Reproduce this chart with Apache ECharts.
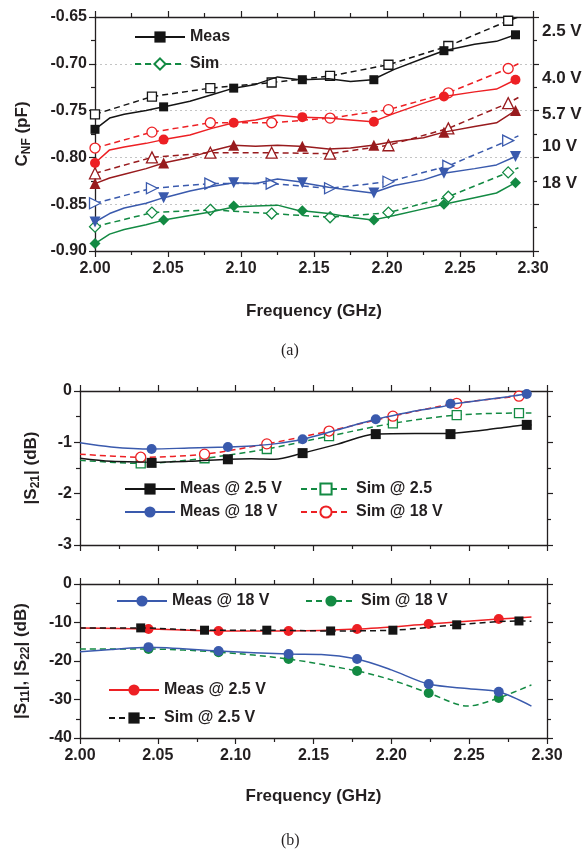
<!DOCTYPE html>
<html>
<head>
<meta charset="utf-8">
<title>CNF and S-parameters vs frequency</title>
<script src="https://cdn.jsdelivr.net/npm/echarts@6/dist/echarts.min.js"></script>
<style>
    html, body { margin:0; padding:0; background:#fff; }
    #chart { width:585px; height:855px; }
</style>
</head>
<body>
<div id="chart"></div>
<script>
// ---------- (a) C_NF (pF) vs frequency ----------
var fA   = [2.00, 2.01, 2.02, 2.035, 2.05, 2.065, 2.08, 2.095, 2.11, 2.125, 2.14, 2.16, 2.175, 2.19, 2.205, 2.225, 2.24, 2.26, 2.275, 2.29];
var l25A = [-0.770, -0.758, -0.754, -0.750, -0.745, -0.740, -0.733, -0.726, -0.722, -0.714, -0.717, -0.716, -0.719, -0.717, -0.706, -0.694, -0.686, -0.679, -0.676, -0.668];
var l40A = [-0.806, -0.792, -0.789, -0.785, -0.780, -0.776, -0.769, -0.763, -0.760, -0.755, -0.757, -0.758, -0.760, -0.762, -0.753, -0.742, -0.735, -0.730, -0.727, -0.717];
var l57A = [-0.828, -0.822, -0.818, -0.812, -0.805, -0.800, -0.793, -0.787, -0.788, -0.787, -0.788, -0.791, -0.790, -0.787, -0.783, -0.779, -0.773, -0.767, -0.763, -0.750];
var l10A = [-0.869, -0.860, -0.854, -0.849, -0.842, -0.836, -0.831, -0.827, -0.828, -0.823, -0.826, -0.832, -0.835, -0.838, -0.830, -0.824, -0.817, -0.812, -0.808, -0.799];
var l18A = [-0.892, -0.882, -0.877, -0.872, -0.866, -0.862, -0.858, -0.853, -0.852, -0.851, -0.857, -0.860, -0.864, -0.867, -0.862, -0.855, -0.850, -0.843, -0.838, -0.827];

// marker points on measured curves
var mA   = [2.000, 2.047, 2.095, 2.142, 2.191, 2.239, 2.288];
var m25A = [-0.770, -0.746, -0.726, -0.717, -0.717, -0.686, -0.669];
var m40A = [-0.806, -0.781, -0.763, -0.757, -0.762, -0.735, -0.717];
var m57A = [-0.828, -0.806, -0.787, -0.788, -0.787, -0.773, -0.750];
var m10A = [-0.869, -0.843, -0.827, -0.827, -0.838, -0.817, -0.799];
var m18A = [-0.892, -0.867, -0.852, -0.857, -0.867, -0.850, -0.827];

// simulated curves (markers) + end point
var sA   = [2.000, 2.039, 2.079, 2.121, 2.161, 2.201, 2.242, 2.283];
var s25A = [-0.754, -0.735, -0.726, -0.720, -0.713, -0.701, -0.681, -0.654];
var s40A = [-0.790, -0.773, -0.763, -0.763, -0.758, -0.749, -0.731, -0.705];
var s57A = [-0.817, -0.800, -0.795, -0.795, -0.796, -0.787, -0.769, -0.742];
var s10A = [-0.849, -0.833, -0.828, -0.828, -0.833, -0.826, -0.809, -0.782];
var s18A = [-0.874, -0.859, -0.856, -0.860, -0.864, -0.859, -0.842, -0.816];
var endA = [2.29];
var e25A = [-0.650], e40A = [-0.700], e57A = [-0.736], e10A = [-0.777], e18A = [-0.811];

var biasLabels = ['2.5 V', '4.0 V', '5.7 V', '10 V', '18 V'];

// ---------- (b) top: |S21| (dB) ----------
var fB1   = [2.00, 2.02, 2.046, 2.07, 2.095, 2.11, 2.125, 2.143, 2.165, 2.19, 2.215, 2.238, 2.26, 2.275, 2.29];
var lm25B = [-1.31, -1.37, -1.39, -1.37, -1.33, -1.32, -1.33, -1.21, -1.04, -0.84, -0.83, -0.83, -0.76, -0.70, -0.66];
var lm18B = [-1.01, -1.09, -1.13, -1.11, -1.09, -1.07, -1.03, -0.94, -0.76, -0.55, -0.39, -0.26, -0.17, -0.11, -0.04];
var mB    = [2.046, 2.095, 2.143, 2.190, 2.238, 2.287];
var mm25B = [-1.40, -1.33, -1.21, -0.84, -0.84, -0.66];
var mm18B = [-1.13, -1.09, -0.94, -0.55, -0.25, -0.06];
var sB    = [2.039, 2.080, 2.120, 2.160, 2.201, 2.242, 2.282];
var ms25B = [-1.41, -1.31, -1.13, -0.88, -0.63, -0.47, -0.43];
var ms18B = [-1.29, -1.23, -1.03, -0.78, -0.49, -0.24, -0.10];
var edgeB = [2.00, 2.29];
var es25B = [-1.35, -0.43];
var es18B = [-1.23, -0.08];

// ---------- (b) bottom: |S11|, |S22| (dB) ----------
var mB2    = [2.044, 2.089, 2.134, 2.178, 2.224, 2.269];
var mm25B2 = [-11.7, -12.2, -12.2, -11.7, -10.4, -9.1];
var mm18B2 = [-16.4, -17.4, -18.2, -19.5, -26.0, -28.0];
var ms18B2 = [-16.9, -17.7, -19.5, -22.6, -28.3, -29.6];
var sB2    = [2.039, 2.080, 2.120, 2.161, 2.201, 2.242, 2.282];
var ms25B2 = [-11.4, -12.0, -12.0, -12.2, -12.0, -10.6, -9.6];
var lm25F  = [2.00, 2.29],                           lm25V = [-11.4, -8.6];
var lm18F  = [2.00, 2.02, 2.155, 2.20, 2.25, 2.29],  lm18V = [-17.6, -17.0, -18.3, -22.3, -27.2, -31.7];
var ls18F  = [2.00, 2.20, 2.249, 2.29],              ls18V = [-16.9, -24.9, -31.7, -26.2];
var ls25F  = [2.00, 2.29],                           ls25V = [-11.4, -9.7];

var ink = '#231f20';
var FONT = '"Liberation Sans", Arial, sans-serif';
var BLACK = '#151515', RED = '#ed2024', DRED = '#981b1e', BLUE = '#3a5aad', GREEN = '#138a43';

var legendNames = {
    b1m25: 'Meas @ 2.5 V', b1m18: 'Meas @ 18 V', b1s25: 'Sim @ 2.5', b1s18: 'Sim @ 18 V',
    b2m18: 'Meas @ 18 V', b2s18: 'Sim @ 18 V', b2m25: 'Meas @ 2.5 V', b2s25: 'Sim @ 2.5 V'
};

// line points without symbol + marker points with symbol, sorted by frequency
function merge(lf, lv, mf, mv) {
    var out = [];
    lf.forEach(function (f, i) { out.push({ value: [f, lv[i]], symbol: 'none' }); });
    mf.forEach(function (f, i) { out.push({ value: [f, mv[i]] }); });
    out.sort(function (a, b) { return a.value[0] - b.value[0]; });
    return out;
}

function line(name, g, data, color, sym, open, dashed, size, rot, smooth) {
    return {
        name: name, type: 'line', xAxisIndex: g * 2, yAxisIndex: g * 2,
        data: data, symbol: sym, symbolSize: size, symbolRotate: rot || 0,
        showSymbol: true, showAllSymbol: true, smooth: smooth || false,
        z: dashed ? 3 : 4,
        lineStyle: { color: color, width: 1.5, type: dashed ? [6, 4] : 'solid' },
        itemStyle: { color: open ? '#fff' : color, borderColor: color, borderWidth: open ? 1.3 : 0 }
    };
}

function xAx(g, pos, labels) {
    return {
        type: 'value', gridIndex: g, position: pos, min: 2.0, max: 2.3, interval: 0.05,
        axisLine: { show: true, onZero: false, lineStyle: { color: ink, width: 1.3 } },
        axisTick: { show: true, length: 6, lineStyle: { color: ink, width: 1.2 } },
        minorTick: { show: true, splitNumber: 2, length: 4, lineStyle: { color: ink, width: 1.2 } },
        axisLabel: { show: labels, margin: 10, color: ink, fontSize: 16, fontWeight: 'bold', fontFamily: FONT,
            formatter: function (v) { return v.toFixed(2); } },
        splitLine: { show: false }
    };
}

function yAx(g, pos, min, max, step, labels, fmt) {
    return {
        type: 'value', gridIndex: g, position: pos, min: min, max: max, interval: step,
        axisLine: { show: true, onZero: false, lineStyle: { color: ink, width: 1.3 } },
        axisTick: { show: true, length: 6, lineStyle: { color: ink, width: 1.2 } },
        minorTick: { show: true, splitNumber: 2, length: 4, lineStyle: { color: ink, width: 1.2 } },
        axisLabel: { show: labels, margin: 8, color: ink, fontSize: 16, fontWeight: 'bold', fontFamily: FONT, formatter: fmt },
        splitLine: { show: false }
    };
}

var nameRich = {
    t: { fontSize: 17, fontWeight: 'bold', color: ink, fontFamily: FONT },
    s: { fontSize: 12, fontWeight: 'bold', color: ink, fontFamily: FONT, padding: [9, 0, 0, 0] }
};

var xA = xAx(0, 'bottom', true);
xA.name = 'Frequency (GHz)'; xA.nameLocation = 'middle'; xA.nameGap = 52;
xA.nameTextStyle = { fontSize: 17, fontWeight: 'bold', color: ink, fontFamily: FONT };
var xB2 = xAx(2, 'bottom', true);
xB2.name = 'Frequency (GHz)'; xB2.nameLocation = 'middle'; xB2.nameGap = 50;
xB2.nameTextStyle = xA.nameTextStyle;

var yA = yAx(0, 'left', -0.90, -0.65, 0.05, true, function (v) { return v.toFixed(2); });
yA.splitLine = { show: true, lineStyle: { color: '#c4c4c4', type: [2, 3], width: 1 } };
yA.name = '{t|C}{s|NF}{t| (pF)}'; yA.nameLocation = 'middle'; yA.nameGap = 62;
yA.nameTextStyle = { rich: nameRich };

var yB1 = yAx(1, 'left', -3, 0, 1, true, function (v) { return String(v); });
yB1.name = '{t||S}{s|21}{t|| (dB)}'; yB1.nameLocation = 'middle'; yB1.nameGap = 38;
yB1.nameTextStyle = { rich: nameRich };

var yB2 = yAx(2, 'left', -40, 0, 10, true, function (v) { return String(v); });
yB2.name = '{t||S}{s|11}{t||, |S}{s|22}{t|| (dB)}'; yB2.nameLocation = 'middle'; yB2.nameGap = 48;
yB2.nameTextStyle = { rich: nameRich };

var legText = { fontSize: 16, fontWeight: 'bold', color: ink, fontFamily: FONT };
function leg(names, left, top, gap) {
    return {
        data: names, orient: 'vertical', left: left, top: top, itemGap: gap, padding: 0,
        itemWidth: 50, itemHeight: 14, selectedMode: false, textStyle: legText,
        formatter: function (n) { return legendNames[n] || n; }
    };
}

var series = [
    // (a)
    line('Meas', 0, merge(fA, l25A, mA, m25A), BLACK, 'rect', false, false, 9),
    line('Sim 2.5', 0, merge(endA, e25A, sA, s25A), BLACK, 'rect', true, true, 9),
    line('Meas 4.0', 0, merge(fA, l40A, mA, m40A), RED, 'circle', false, false, 10),
    line('Sim 4.0', 0, merge(endA, e40A, sA, s40A), RED, 'circle', true, true, 10),
    line('Meas 5.7', 0, merge(fA, l57A, mA, m57A), DRED, 'triangle', false, false, 11),
    line('Sim 5.7', 0, merge(endA, e57A, sA, s57A), DRED, 'triangle', true, true, 11),
    line('Meas 10', 0, merge(fA, l10A, mA, m10A), BLUE, 'triangle', false, false, 11, 180),
    line('Sim 10', 0, merge(endA, e10A, sA, s10A), BLUE, 'triangle', true, true, 11, -90),
    line('Meas 18', 0, merge(fA, l18A, mA, m18A), GREEN, 'diamond', false, false, 11),
    line('Sim', 0, merge(endA, e18A, sA, s18A), GREEN, 'diamond', true, true, 11),
    // (b) top
    line('b1s25', 1, merge(edgeB, es25B, sB, ms25B), GREEN, 'rect', true, true, 9, 0, 0.3),
    line('b1m25', 1, merge(fB1, lm25B, mB, mm25B), BLACK, 'rect', false, false, 10, 0, 0.3),
    line('b1m18', 1, merge(fB1, lm18B, mB, mm18B), BLUE, 'circle', false, false, 10, 0, 0.3),
    line('b1s18', 1, merge(edgeB, es18B, sB, ms18B), RED, 'circle', true, true, 10, 0, 0.3),
    // (b) bottom
    line('b2m25', 2, merge(lm25F, lm25V, mB2, mm25B2), RED, 'circle', false, false, 10, 0, 0.3),
    line('b2s25', 2, merge(ls25F, ls25V, sB2, ms25B2), BLACK, 'rect', false, true, 9, 0, 0.3),
    line('b2m18', 2, merge(lm18F, lm18V, mB2, mm18B2), BLUE, 'circle', false, false, 10, 0, 0.3),
    line('b2s18', 2, merge(ls18F, ls18V, mB2, ms18B2), GREEN, 'circle', false, true, 10, 0, 0.3)
];
series[15].z = 5;

var biasY = [33, 80, 116, 148, 185];
var graphics = biasLabels.map(function (t, i) {
    return { type: 'text', left: 542, top: biasY[i] - 10,
        style: { text: t, fill: ink, font: 'bold 17px ' + FONT } };
});
graphics.push({ type: 'text', left: 281, top: 343, style: { text: '(a)', fill: ink, font: '16px "Liberation Serif", serif' } });
graphics.push({ type: 'text', left: 281, top: 833, style: { text: '(b)', fill: ink, font: '16px "Liberation Serif", serif' } });

var chart = echarts.init(document.getElementById('chart'), null, { renderer: 'canvas' });
chart.setOption({
    animation: false,
    backgroundColor: '#fff',
    grid: [
        { left: 95, top: 17, width: 438, height: 234 },
        { left: 80, top: 391, width: 467, height: 154 },
        { left: 80, top: 584, width: 467, height: 154 }
    ],
    xAxis: [xA, xAx(0, 'top', false), xAx(1, 'bottom', false), xAx(1, 'top', false), xB2, xAx(2, 'top', false)],
    yAxis: [yA, yAx(0, 'right', -0.90, -0.65, 0.05, false),
            yB1, yAx(1, 'right', -3, 0, 1, false),
            yB2, yAx(2, 'right', -40, 0, 10, false)],
    legend: [
        leg(['Meas', 'Sim'], 134, 29, 11),
        leg(['b1m25', 'b1m18'], 124, 481, 7),
        leg(['b1s25', 'b1s18'], 300, 481, 7),
        leg(['b2m18'], 116, 593, 0),
        leg(['b2s18'], 305, 593, 0),
        leg(['b2m25'], 108, 682, 0),
        leg(['b2s25'], 108, 710, 0)
    ],
    graphic: graphics,
    series: series
});
</script>
</body>
</html>
